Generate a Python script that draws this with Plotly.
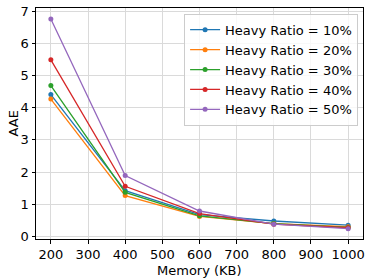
import plotly.graph_objects as go

memory = [200, 400, 600, 800, 1000]
ratio_10 = [4.41, 1.42, 0.68, 0.48, 0.35]
ratio_20 = [4.27, 1.27, 0.62, 0.40, 0.30]
ratio_30 = [4.69, 1.37, 0.64, 0.40, 0.28]
ratio_40 = [5.49, 1.56, 0.71, 0.38, 0.27]
ratio_50 = [6.76, 1.89, 0.79, 0.38, 0.24]
names = ["Heavy Ratio = 10%", "Heavy Ratio = 20%", "Heavy Ratio = 30%",
         "Heavy Ratio = 40%", "Heavy Ratio = 50%"]
colors = ["#1f77b4", "#ff7f0e", "#2ca02c", "#d62728", "#9467bd"]
series = [ratio_10, ratio_20, ratio_30, ratio_40, ratio_50]
x_title = "Memory (KB)"
y_title = "AAE"

fig = go.Figure()
for n, c, s in zip(names, colors, series):
    fig.add_trace(go.Scatter(x=memory, y=s, name=n, mode="lines+markers",
                             line=dict(color=c, width=1.3),
                             marker=dict(color=c, size=5)))

font = dict(family="DejaVu Sans", size=13, color="black")
fig.update_layout(
    width=374, height=280,
    margin=dict(l=36, r=11, t=8, b=41, autoexpand=False),
    paper_bgcolor="white", plot_bgcolor="white",
    font=font,
    showlegend=True,
    legend=dict(x=0.985, y=0.975, xanchor="right", yanchor="top",
                bgcolor="rgba(255,255,255,0.8)", bordercolor="#cccccc",
                borderwidth=1, font=dict(family="DejaVu Sans", size=13, color="black"),
                tracegroupgap=0, itemwidth=30),
    annotations=[
        dict(text=x_title, xref="paper", yref="paper", x=0.5, y=0,
             xanchor="center", yanchor="middle", yshift=-31, showarrow=False, font=font),
        dict(text=y_title, xref="paper", yref="paper", x=0, y=0.5, textangle=-90,
             xanchor="center", yanchor="middle", xshift=-23, showarrow=False, font=font),
    ],
)
fig.update_xaxes(range=[160, 1040], tickvals=[200, 300, 400, 500, 600, 700, 800, 900, 1000],
                 showline=True, linecolor="black", linewidth=1, mirror=True,
                 ticks="outside", ticklen=3.5, tickcolor="black", automargin=False,
                 showgrid=True, gridcolor="#dadada", gridwidth=1, zeroline=False,
                 tickfont=font)
fig.update_yaxes(range=[-0.08, 7.1], tickvals=[0, 1, 2, 3, 4, 5, 6, 7],
                 showline=True, linecolor="black", linewidth=1, mirror=True,
                 ticks="outside", ticklen=3.5, tickcolor="black", automargin=False,
                 showgrid=True, gridcolor="#dadada", gridwidth=1, zeroline=False,
                 tickfont=font)
fig.write_html("out.html", config={"displayModeBar": False},
               post_script="document.body.style.margin='0';document.body.style.overflow='hidden';")
